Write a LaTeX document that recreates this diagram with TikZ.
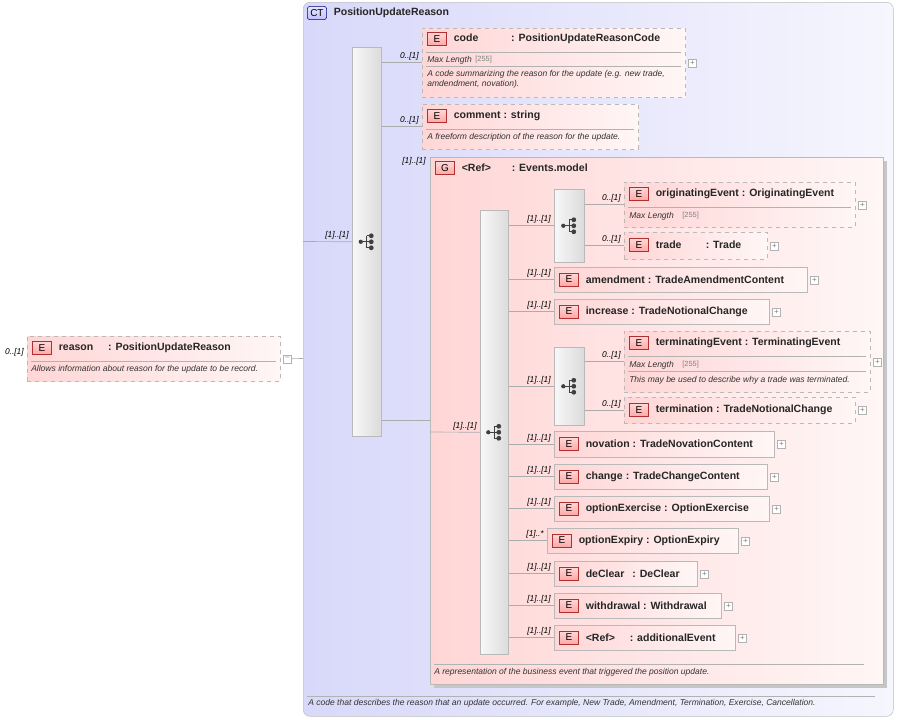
\documentclass[tikz,border=0pt]{standalone}
\usepackage{fontspec}
\setmainfont{Liberation Sans}
\usetikzlibrary{calc}
\usetikzlibrary{positioning}
\definecolor{ctblue}{HTML}{D8D8FA}
\definecolor{ctwhite}{HTML}{F6F6FE}
\definecolor{epink}{HTML}{FFD6D6}
\definecolor{ewhite}{HTML}{FFF6F6}
\definecolor{ered}{HTML}{B03030}

% box by its corners: style, name, x1, y1, x2, y2
\newcommand\boxat[6]{\node[#1, minimum width={(#5-#3)*0.75pt}, minimum height={(#6-#4)*0.75pt}] (#2) at (#3,#4) {};}
% header: name, x, y, letter, title
\newcommand\headat[5]{\node[badge] (#1-b) at (#2,#3) {#4};
  \node[ttl, right=5pt of #1-b] (#1-t) {#5};}

\tikzset{
  ct/.style={draw=gray!50, rounded corners=5pt, left color=ctblue, right color=ctwhite, anchor=north west, inner sep=0},
  ebox/.style={draw=gray!55, left color=epink, right color=ewhite, anchor=north west, inner sep=0},
  opt/.style={ebox, dashed},
  bar/.style={draw=gray!55, left color=gray!6, right color=gray!28, anchor=north west, inner sep=0},
  badge/.style={draw=ered, top color=red!15, bottom color=red!35, font=\fontsize{7.5}{8}\selectfont, minimum width=14.5pt, minimum height=10pt, inner sep=0, anchor=west},
  ctbadge/.style={badge, draw=blue!50!black, top color=blue!10, bottom color=blue!25, rounded corners=2pt},
  ttl/.style={font=\fontsize{7.9}{9}\bfseries\selectfont, inner sep=0, text=black!85},
  desc/.style={font=\fontsize{6.4}{7.5}\itshape\selectfont, anchor=west, inner sep=0, text=black!80},
  small/.style={font=\fontsize{5.6}{7}\selectfont, anchor=west, inner sep=0, text=gray},
  card/.style={font=\fontsize{6.3}{7}\itshape\selectfont, anchor=south east, inner sep=0},
  pm/.style={draw=gray!60, fill=white, minimum size=6pt, inner sep=0, font=\fontsize{6}{6}\selectfont, text=gray},
  link/.style={draw=gray!65, line width=0.5pt},
  sep/.style={draw=gray!60, line width=0.5pt},
  seq/.pic={
    \fill[black!75] (-6,0) circle (1.6pt);
    \draw[black!75, line width=0.9pt] (-6,0) -- (0,0) (0,-6) -- (0,6) (0,-6) -- (4,-6) (0,6) -- (4,6) (0,0) -- (4,0);
    \foreach \v in {-6,0,6} \fill[black!75] (4.5,\v) circle (1.8pt);
  }
}

\begin{document}
\begin{tikzpicture}[x=0.75pt, y=-0.75pt]
\useasboundingbox (0,0) rectangle (898,719);

% complex type
\boxat{ct}{ct}{303}{2}{893}{716}
\node[ctbadge] (ct-b) at (307,13) {CT};
\node[ttl, right=5pt of ct-b] (ct-t) {PositionUpdateReason};
\draw[sep] (307,696) -- (875,696);
\node[desc] (ct-d) at (308,703) {A code that describes the reason that an update occurred. For example, New Trade, Amendment, Termination, Exercise, Cancellation.};

% root element
\boxat{opt}{reason}{27}{336}{280}{381}
\headat{reason}{32}{348}{E}{\makebox[37pt][l]{reason}: PositionUpdateReason}
\draw[sep] (31,361) -- (276,361);
\node[desc] at (31,369) {Allows information about reason for the update to be record.};
\node[pm, right=2pt of reason] (reason-m) {--};
\node[card, anchor=east] at ($(reason.west)+(-3,-6)$) {0..[1]};
\coordinate (ctin) at (303,358.5);
\draw[link] (reason-m) -- (ctin);

% main sequence
\boxat{bar}{mainbar}{352}{47}{381}{436}
\pic at (mainbar.center) {seq};
\coordinate (ctl) at (303,241.5);
\draw[link] (ctl) -- (mainbar.west);
\node[card] at ($(mainbar.west)+(-3,-2)$) {[1]..[1]};

% code
\boxat{opt}{code}{422}{28}{685}{97}
\headat{code}{427}{39}{E}{\makebox[43pt][l]{code}: PositionUpdateReasonCode}
\draw[sep] (426,52) -- (681,52);
\node[desc] at (427,60) {Max Length}; \node[small] at (475,60) {[255]};
\draw[sep] (426,66) -- (681,66);
\node[desc, align=left] at (427,79) {A code summarizing the reason for the update (e.g. new trade,\\amdendment, novation).};
\node[pm, right=2pt of code] {+};
\draw[link] (code.west) -- (code.west -| mainbar.east);
\node[card] at ($(code.west)+(-3,-2)$) {0..[1]};

% comment
\boxat{opt}{comment}{422}{104}{638}{149}
\headat{comment}{427}{116}{E}{comment : string}
\draw[sep] (426,129) -- (634,129);
\node[desc] at (427,137) {A freeform description of the reason for the update.};
\draw[link] (comment.west) -- (comment.west -| mainbar.east);
\node[card] at ($(comment.west)+(-3,-2)$) {0..[1]};

% events group
\fill[gray!45] (434,161) rectangle (887,688);
\boxat{ebox}{grp}{430}{157}{883}{684}
\headat{grp}{435}{168}{G}{\makebox[37.5pt][l]{<Ref>}: Events.model}
\draw[sep] (434,664) -- (864,664);
\node[desc] at (434,672) {A representation of the business event that triggered the position update.};
\draw[link] (grp.west) -- (grp.west -| mainbar.east);
\node[card, anchor=east] at ($(grp.north west)+(-4,4)$) {[1]..[1]};

\boxat{bar}{seqbar}{480}{210}{508}{654}
\pic at (seqbar.center) {seq};
\coordinate (gin) at (430,432);
\draw[link] (gin) -- (seqbar.west);
\node[card] at ($(seqbar.west)+(-3,-2)$) {[1]..[1]};

% first choice
\boxat{bar}{chA}{554}{189}{584}{262}
\pic at (chA.center) {seq};
\draw[link] (chA.west) -- (chA.west -| seqbar.east);
\node[card] at ($(chA.west)+(-3,-2)$) {[1]..[1]};

\boxat{opt}{orig}{624}{182}{855}{227}
\headat{orig}{629}{194}{E}{originatingEvent : OriginatingEvent}
\draw[sep] (628,207) -- (851,207);
\node[desc] at (629,216) {Max Length}; \node[small] at (682,216) {[255]};
\node[pm, right=2pt of orig] {+};
\draw[link] (orig.west) -- (orig.west -| chA.east);
\node[card] at ($(orig.west)+(-3,-2)$) {0..[1]};

\boxat{opt}{trade}{624}{232}{767}{259}
\headat{trade}{629}{245}{E}{\makebox[37.5pt][l]{trade}: Trade}
\node[pm, right=2pt of trade] {+};
\draw[link] (trade.west) -- (trade.west -| chA.east);
\node[card] at ($(trade.west)+(-3,-2)$) {0..[1]};

% second choice
\boxat{bar}{chB}{554}{347}{584}{425}
\pic at (chB.center) {seq};
\draw[link] (chB.west) -- (chB.west -| seqbar.east);
\node[card] at ($(chB.west)+(-3,-2)$) {[1]..[1]};

\boxat{opt}{term}{624}{331}{870}{392}
\headat{term}{629}{343}{E}{terminatingEvent : TerminatingEvent}
\draw[sep] (628,356) -- (866,356);
\node[desc] at (629,365) {Max Length}; \node[small] at (682,365) {[255]};
\draw[sep] (628,371) -- (866,371);
\node[desc] at (629,380) {This may be used to describe why a trade was terminated.};
\node[pm, right=2pt of term] {+};
\draw[link] (term.west) -- (term.west -| chB.east);
\node[card] at ($(term.west)+(-3,-2)$) {0..[1]};

\boxat{opt}{termn}{624}{397}{855}{423}
\headat{termn}{629}{410}{E}{termination : TradeNotionalChange}
\node[pm, right=2pt of termn] {+};
\draw[link] (termn.west) -- (termn.west -| chB.east);
\node[card] at ($(termn.west)+(-3,-2)$) {0..[1]};

% plain elements
\foreach \n/\xa/\ya/\xb/\yb/\t/\c in {
  amend/554/267/807/292/{amendment : TradeAmendmentContent}/{[1]..[1]},
  incr/554/299/769/324/{increase : TradeNotionalChange}/{[1]..[1]},
  nov/554/431/774/457/{novation : TradeNovationContent}/{[1]..[1]},
  chg/554/464/767/489/{\makebox[30pt][l]{change}: TradeChangeContent}/{[1]..[1]},
  optex/554/496/769/521/{optionExercise : OptionExercise}/{[1]..[1]},
  optexp/547/528/738/553/{optionExpiry : OptionExpiry}/{[1]..*},
  dec/554/561/697/586/{\makebox[35pt][l]{deClear}: DeClear}/{[1]..[1]},
  wdr/554/593/721/618/{withdrawal : Withdrawal}/{[1]..[1]},
  addev/554/625/735/650/{\makebox[33pt][l]{<Ref>}: additionalEvent}/{[1]..[1]}} {
  \pgfmathsetmacro\xh{\xa+5}
  \pgfmathsetmacro\yh{(\ya+\yb)/2}
  \boxat{ebox}{\n}{\xa}{\ya}{\xb}{\yb}
  \headat{\n}{\xh}{\yh}{E}{\t}
  \node[pm, right=2pt of \n] {+};
  \draw[link] (\n.west) -- (\n.west -| seqbar.east);
  \node[card] at ($(\n.west)+(-3,-2)$) {\c};
}
\end{tikzpicture}
\end{document}
